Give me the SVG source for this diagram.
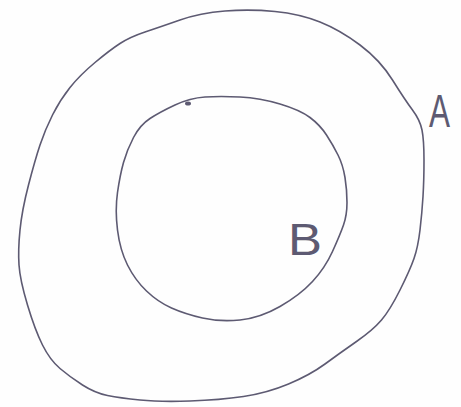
<svg xmlns="http://www.w3.org/2000/svg" width="461" height="407" viewBox="0 0 461 407">
<style>
.ring{fill:none;stroke:#5d5a72;stroke-width:1.6;stroke-linecap:round;stroke-linejoin:round}
.lbl{font-family:"Liberation Sans",Arial,sans-serif;fill:#5d5a72;font-weight:normal}
</style>
<rect width="461" height="407" fill="#fefefe"/>
<g id="A">
<path class="ring" d="M180,20 Q160,27 145,32 Q130,37 120,43.5 Q110,50 95,62.5 Q80,75 70,87.5 Q60,100 52.5,115 Q45,130 40,145 Q35,160 28.5,185 Q22,210 20,230 Q18,250 19,265 Q20,280 27.5,305 Q35,330 42.5,345 Q50,360 60,368.5 Q70,377 82.5,385 Q95,393 107.5,395.5 Q120,398 140,400 Q160,402 190,401 Q220,400 243.5,396.5 Q267,393 288.5,384 Q310,375 325,364 Q340,353 356.5,341.5 Q373,330 381.5,320 Q390,310 400,290 Q410,270 414,258.5 Q418,247 420,230 Q422,213 423,196.5 Q424,180 424,160 Q424,140 422,130 Q420,120 412.5,110 Q405,100 392.5,80 Q380,60 360,45 Q340,30 320,22 Q300,14 275,11.5 Q250,9 225,11 Q200,13 180,20 Z"/>
<text class="lbl" x="429" y="127" font-size="46" textLength="21" lengthAdjust="spacingAndGlyphs">A</text>
</g>
<g id="B">
<path class="ring" d="M205,97 Q220,96 240,97 Q260,98 280,104 Q300,110 310,117.5 Q320,125 326.5,135 Q333,145 338,155 Q343,165 345,177.5 Q347,190 347,202.5 Q347,215 343.5,225 Q340,235 332.5,251.5 Q325,268 312.5,281.5 Q300,295 280,306.5 Q260,318 240,320 Q220,322 202.5,318 Q185,314 171.5,308 Q158,302 146.5,291 Q135,280 127.5,265 Q120,250 117.5,230 Q115,210 117.5,192.5 Q120,175 123.5,162.5 Q127,150 133.5,137.5 Q140,125 150,118.5 Q160,112 175,105 Q190,98 205,97 Z"/>
<ellipse cx="188" cy="103.5" rx="3" ry="2" fill="#5d5a72"/>
<text class="lbl" x="288" y="255" font-size="44" textLength="34" lengthAdjust="spacingAndGlyphs">B</text>
</g>
<g id="connectors"></g>
</svg>
